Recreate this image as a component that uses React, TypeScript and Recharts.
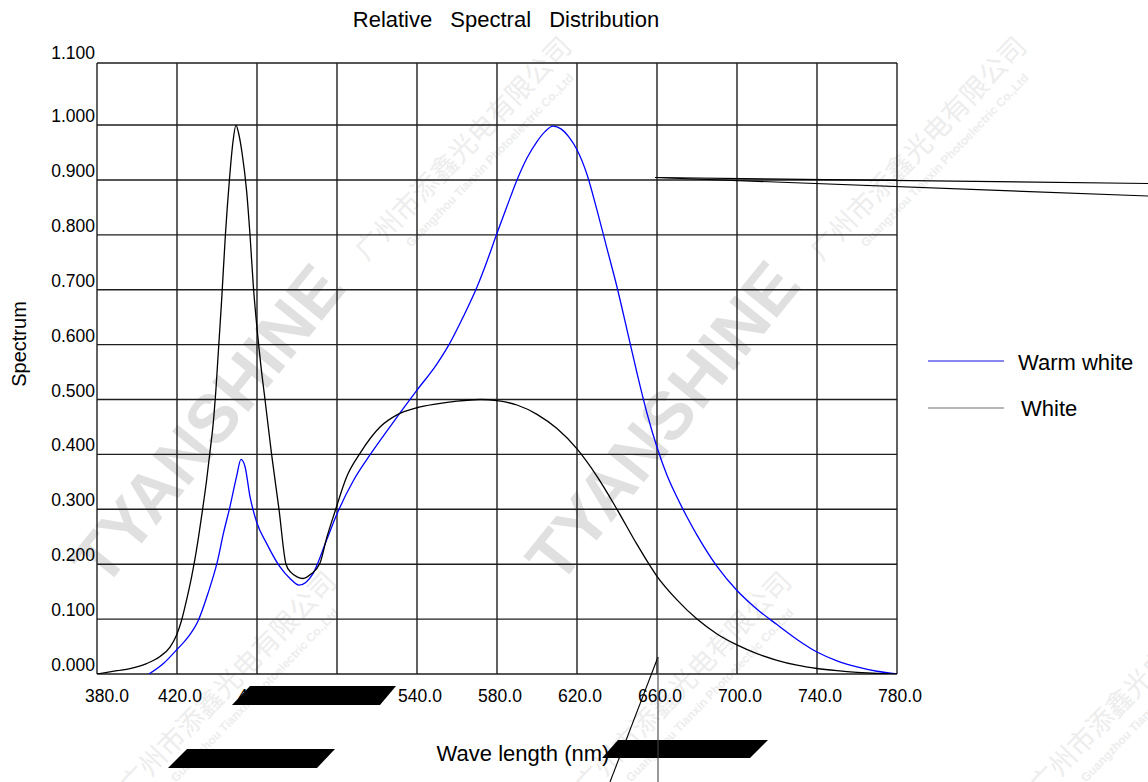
import React from 'react';
import { LineChart, Line, XAxis, YAxis, CartesianGrid } from 'recharts';

const wavelengthTicks = [380, 420, 460, 500, 540, 580, 620, 660, 700, 740, 780];
const spectrumTicks = [0, 0.1, 0.2, 0.3, 0.4, 0.5, 0.6, 0.7, 0.8, 0.9, 1.0, 1.113];
const spectrumTopLabel = '1.100';

const whiteWave = [380, 390, 396.5, 404.8, 411.5, 416.5, 419.8, 422.3, 424.8, 427.3, 429, 430.7, 432.8, 434.8, 436.5, 438.2, 439.5, 442.3, 444.2, 446.2, 448, 449.5, 450.8, 452.5, 454.8, 456.5, 458.2, 460, 462, 464, 467.3, 471, 474.5, 477, 480, 483, 487, 491.5, 495, 499, 504.8, 511.5, 521.5, 530, 540, 550, 560, 571.5, 580, 590, 600, 610, 620, 630, 640, 650, 660, 670, 680, 690, 700, 710, 720, 730, 740, 750, 760, 770, 780];
const whiteValue = [0, 0.006, 0.01, 0.019, 0.032, 0.049, 0.071, 0.098, 0.135, 0.177, 0.21, 0.248, 0.3, 0.353, 0.405, 0.46, 0.52, 0.68, 0.8, 0.9, 0.97, 1.0, 0.985, 0.95, 0.88, 0.8, 0.705, 0.63, 0.56, 0.5, 0.4, 0.3, 0.2, 0.185, 0.177, 0.174, 0.182, 0.202, 0.25, 0.296, 0.359, 0.402, 0.45, 0.472, 0.485, 0.492, 0.497, 0.5, 0.498, 0.49, 0.473, 0.447, 0.41, 0.36, 0.3, 0.236, 0.178, 0.135, 0.1, 0.073, 0.053, 0.037, 0.025, 0.016, 0.01, 0.006, 0.003, 0.001, 0];

const warmWave = [406, 413.2, 419.8, 425.7, 430.7, 435.5, 440.2, 443.2, 446.5, 449.8, 452, 454, 456.5, 459.8, 464.8, 471.5, 476.5, 481, 488, 494.8, 499.8, 508.3, 514.8, 521.5, 530, 540, 550, 556, 563, 570, 575, 580, 585, 590, 595, 600, 604, 608, 612, 616, 620, 625, 630, 635, 640, 645, 650, 655, 660, 665, 670, 675, 680, 690, 700, 710, 720, 730, 740, 750, 760, 770, 780];
const warmValue = [0, 0.019, 0.044, 0.068, 0.098, 0.147, 0.205, 0.256, 0.305, 0.36, 0.391, 0.378, 0.323, 0.277, 0.238, 0.195, 0.174, 0.162, 0.183, 0.244, 0.29, 0.353, 0.39, 0.425, 0.468, 0.517, 0.565, 0.6, 0.65, 0.705, 0.752, 0.803, 0.852, 0.9, 0.94, 0.97, 0.988, 0.998, 0.993, 0.978, 0.955, 0.91, 0.845, 0.775, 0.705, 0.627, 0.548, 0.475, 0.413, 0.362, 0.322, 0.286, 0.253, 0.196, 0.152, 0.118, 0.09, 0.063, 0.04, 0.024, 0.013, 0.005, 0];

const seriesNames = ['Warm white', 'White'];
const seriesColors = ['#0000ff', '#000000'];
const legendColors = ['#1010e0', '#707070'];

const whiteData = whiteWave.map((w, i) => ({ w, v: whiteValue[i] }));
const warmData = warmWave.map((w, i) => ({ w, v: warmValue[i] }));

const FONT = '"Liberation Sans", Arial, Helvetica, sans-serif';

const XTick = (props: any) => {
  const { x, y, payload } = props;
  const v = payload.value as number;
  const shift = v === wavelengthTicks[0] ? 10 : 3;
  return (
    <text x={x + shift} y={y} dy={28} textAnchor="middle" fontSize={17.5} fontFamily={FONT} fill="#000">
      {v.toFixed(1)}
    </text>
  );
};

const YTick = (props: any) => {
  const { x, y, payload } = props;
  const v = payload.value as number;
  const label = v > 1.05 ? spectrumTopLabel : v.toFixed(3);
  return (
    <text x={x} y={y} dy={v > 1.05 ? -4 : -3} textAnchor="end" fontSize={17.5} fontFamily={FONT} fill="#000">
      {label}
    </text>
  );
};

const watermarkCenters = [
  [470, 155],
  [925, 155],
  [235, 690],
  [690, 690],
  [1145, 690],
];
const brandCenters = [
  [212, 428],
  [667, 425],
];

export default function App() {
  return (
    <div style={{ position: 'absolute', left: 0, top: 0, width: 1148, height: 782, background: '#fff', overflow: 'hidden' }}>
      <svg width={1148} height={782} style={{ position: 'absolute', left: 0, top: 0 }}>
        {brandCenters.map(([cx, cy], i) => (
          <text
            key={'b' + i}
            x={cx}
            y={cy}
            transform={`rotate(-51 ${cx} ${cy})`}
            textAnchor="middle"
            dominantBaseline="middle"
            fontSize={68}
            fontWeight="bold"
            fontFamily={FONT}
            fill="#e0e0e0"
          >
            TYANSHINE
          </text>
        ))}
        {watermarkCenters.map(([cx, cy], i) => (
          <g key={'w' + i} transform={`rotate(-46 ${cx} ${cy})`}>
            <text x={cx} y={cy} textAnchor="middle" fontSize={27} fontFamily='"Noto Sans CJK SC", sans-serif' fill="#ededed">
              广州市添鑫光电有限公司
            </text>
            <text x={cx + 10} y={cy + 22} textAnchor="middle" fontSize={12} fontWeight="bold" fontFamily={FONT} fill="#ededed">
              Guangzhou Tianxin Photoelectric Co.,Ltd
            </text>
          </g>
        ))}
      </svg>
      <div style={{ position: 'absolute', left: 0, top: 0 }}>
        <LineChart width={1148} height={782} margin={{ top: 63, right: 251, bottom: 68, left: 0 }}>
          <CartesianGrid stroke="#1e1e1e" strokeWidth={1.4} horizontal vertical />
          <XAxis
            type="number"
            dataKey="w"
            domain={[380, 780]}
            ticks={wavelengthTicks}
            interval={0}
            axisLine={false}
            tickLine={false}
            tickSize={0}
            tickMargin={0}
            height={40}
            tick={<XTick />}
            allowDataOverflow
          />
          <YAxis
            type="number"
            domain={[0, 1.113]}
            ticks={spectrumTicks}
            interval={0}
            axisLine={false}
            tickLine={false}
            tickSize={0}
            tickMargin={2}
            width={97}
            tick={<YTick />}
            allowDataOverflow
          />
          <Line
            data={warmData}
            dataKey="v"
            name={seriesNames[0]}
            type="monotone"
            stroke={seriesColors[0]}
            strokeWidth={1.3}
            dot={false}
            activeDot={false}
            isAnimationActive={false}
          />
          <Line
            data={whiteData}
            dataKey="v"
            name={seriesNames[1]}
            type="monotone"
            stroke={seriesColors[1]}
            strokeWidth={1.3}
            dot={false}
            activeDot={false}
            isAnimationActive={false}
          />
        </LineChart>
      </div>
      <svg width={1148} height={782} style={{ position: 'absolute', left: 0, top: 0, pointerEvents: 'none' }}>
        <text x={506} y={27} textAnchor="middle" fontSize={22} fontFamily={FONT} fill="#000" style={{ wordSpacing: 12 }}>
          Relative Spectral Distribution
        </text>
        <text transform="translate(26 344) rotate(-90)" textAnchor="middle" fontSize={20} fontFamily={FONT} fill="#000">
          Spectrum
        </text>
        <text x={523} y={761} textAnchor="middle" fontSize={22} fontFamily={FONT} fill="#000">
          Wave length (nm)
        </text>
        {seriesNames.map((name, i) => (
          <g key={name}>
            <line x1={928} x2={1004} y1={361 + i * 47} y2={361 + i * 47} stroke={legendColors[i]} strokeWidth={1.2} />
            <text x={i === 0 ? 1018 : 1021} y={370 + i * 46} fontSize={22} fontFamily={FONT} fill="#000">
              {name}
            </text>
          </g>
        ))}
        <polygon points="250,686 396,686 380,705 232,705" fill="#000" />
        <polygon points="187,749 335,749 317,768 168,768" fill="#000" />
        <polygon points="618,740 768,740 750,758 602,758" fill="#000" />
        <line x1={655} y1={177.5} x2={1148} y2={183.5} stroke="#000" strokeWidth={1.2} />
        <line x1={655} y1={177.5} x2={1148} y2={196} stroke="#000" strokeWidth={1.2} />
        <line x1={658} y1={657} x2={610} y2={782} stroke="#000" strokeWidth={1.1} />
        <line x1={658} y1={657} x2={658} y2={782} stroke="#444" strokeWidth={1.1} />
      </svg>
    </div>
  );
}
